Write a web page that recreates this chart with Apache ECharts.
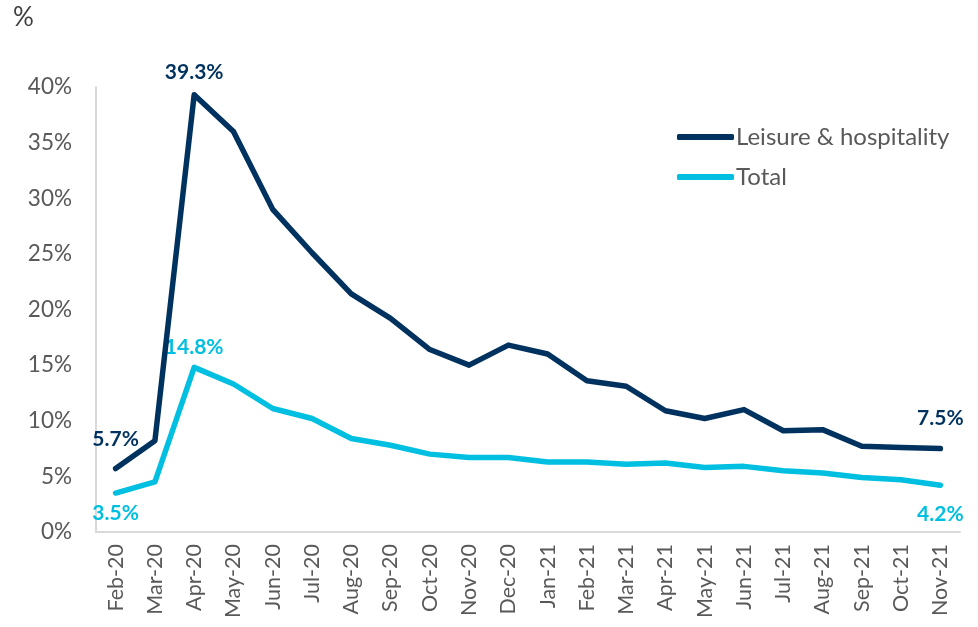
<!DOCTYPE html>
<html>
<head>
<meta charset="utf-8">
<script src="https://cdn.jsdelivr.net/npm/echarts@6/dist/echarts.min.js"></script>
<style>
html,body{margin:0;padding:0;background:#fff;}
#chart{width:978px;height:627px;}
</style>
</head>
<body>
<div id="chart"></div>
<script>
const categories = ["Feb-20","Mar-20","Apr-20","May-20","Jun-20","Jul-20","Aug-20","Sep-20","Oct-20","Nov-20","Dec-20","Jan-21","Feb-21","Mar-21","Apr-21","May-21","Jun-21","Jul-21","Aug-21","Sep-21","Oct-21","Nov-21"];
const leisure = [5.7,8.2,39.3,36.0,29.0,25.1,21.4,19.2,16.4,15.0,16.8,16.0,13.6,13.1,10.9,10.2,11.0,9.1,9.2,7.7,7.6,7.5];
const total = [3.5,4.5,14.8,13.3,11.1,10.2,8.4,7.8,7.0,6.7,6.7,6.3,6.3,6.1,6.2,5.8,5.9,5.5,5.3,4.9,4.7,4.2];
const leisureLabelIdx = [0,2,21];
const totalLabelIdx = [0,2,21];
const totalLabelBelow = [0,21];

const navy = '#00325F';
const cyan = '#00BFE0';
const font = 'Lato, "Open Sans", sans-serif';

function buildData(vals, idxs, color, belowIdx, offsets, shifts) {
  return vals.map((v, i) => {
    if (idxs.indexOf(i) < 0) return v;
    const below = belowIdx.indexOf(i) >= 0;
    return {
      value: v,
      label: {
        show: true,
        position: below ? 'bottom' : 'top',
        distance: offsets[i] || 8,
        offset: shifts[i] || [0, 0],
        formatter: (p) => Number(p.value).toFixed(1) + '%',
        color: color,
        fontFamily: font,
        fontWeight: 'bold',
        fontSize: 21
      }
    };
  });
}

const chart = echarts.init(document.getElementById('chart'), null, {renderer: 'canvas'});
chart.setOption({
  animation: false,
  backgroundColor: '#fff',
  grid: {left: 96, right: 18, top: 87, bottom: 95, containLabel: false},
  graphic: [{
    type: 'text', left: 13, top: 5,
    style: {text: '%', fontSize: 26, fill: '#404040', fontFamily: font}
  }],
  legend: {
    orient: 'vertical',
    left: 672, top: 120,
    itemWidth: 57, itemHeight: 6,
    itemGap: 16,
    icon: 'roundRect',
    textStyle: {fontSize: 24, color: '#595959', fontFamily: font, padding: [0,0,0,-3]},
    data: ['Leisure & hospitality', 'Total']
  },
  xAxis: {
    type: 'category',
    data: categories,
    boundaryGap: true,
    axisLine: {show: true, lineStyle: {color: '#D9D9D9', width: 2}},
    axisTick: {show: false},
    axisLabel: {rotate: 90, fontSize: 21.5, color: '#595959', fontFamily: font, margin: 12, interval: 0}
  },
  yAxis: {
    type: 'value',
    min: 0, max: 40, interval: 5,
    axisLine: {show: true, lineStyle: {color: '#D9D9D9', width: 2}},
    axisTick: {show: false},
    splitLine: {show: false},
    axisLabel: {formatter: '{value}%', fontSize: 22.5, color: '#595959', fontFamily: font, margin: 24}
  },
  series: [
    {
      name: 'Leisure & hospitality',
      type: 'line',
      data: buildData(leisure, leisureLabelIdx, navy, [], {0: 18, 2: 11, 21: 19}, {0: [6, 0], 2: [2, 0]}),
      symbol: 'circle',
      symbolSize: 2,
      showAllSymbol: true,
      lineStyle: {color: navy, width: 5.5, cap: 'round', join: 'round'},
      itemStyle: {color: navy},
      labelLayout: {hideOverlap: false},
      z: 3
    },
    {
      name: 'Total',
      type: 'line',
      data: buildData(total, totalLabelIdx, cyan, totalLabelBelow, {0: 9, 2: 9, 21: 17}, {0: [6, 0], 2: [4, 0]}),
      symbol: 'circle',
      symbolSize: 2,
      showAllSymbol: true,
      lineStyle: {color: cyan, width: 5.5, cap: 'round', join: 'round'},
      itemStyle: {color: cyan},
      labelLayout: {hideOverlap: false},
      z: 2
    }
  ]
});
</script>
</body>
</html>
